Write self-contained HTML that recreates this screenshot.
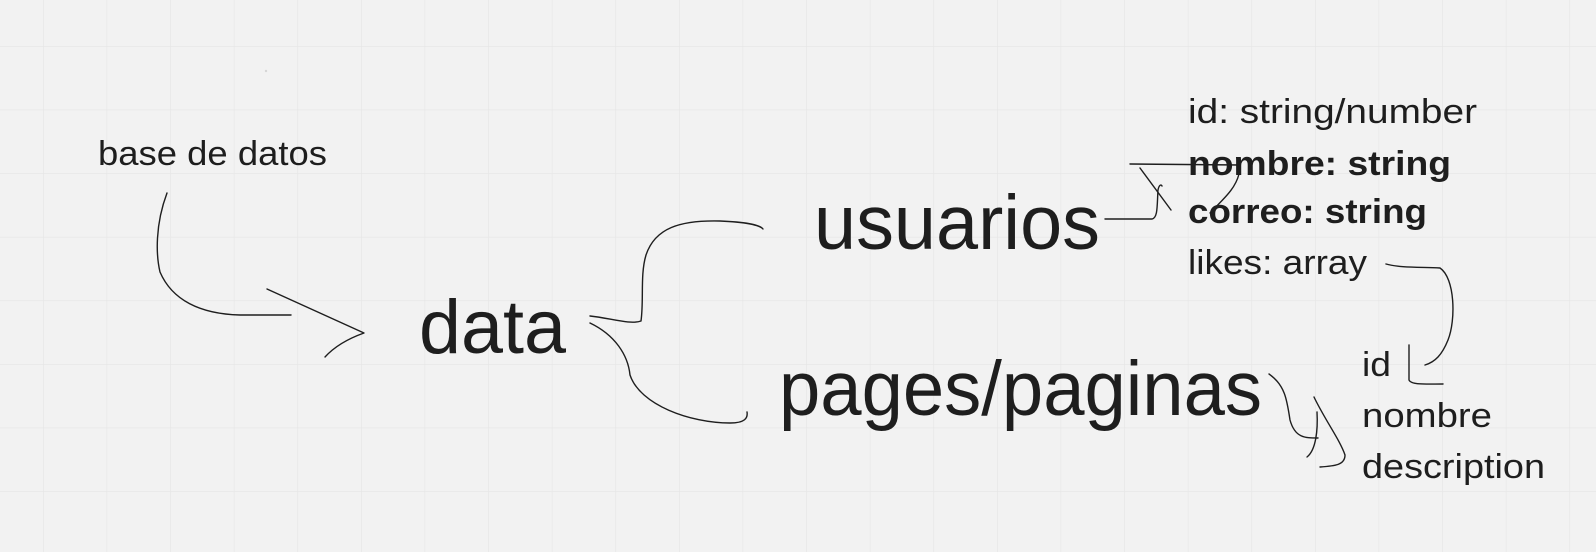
<!DOCTYPE html>
<html><head><meta charset="utf-8"><style>
html,body{margin:0;padding:0;background:#f2f2f2;}
svg{display:block;}
text{font-family:"Liberation Sans",sans-serif;fill:#1e1e1e;}
</style></head><body>
<svg width="1596" height="552" viewBox="0 0 1596 552" xmlns="http://www.w3.org/2000/svg">
<defs>
<pattern id="g" x="43" y="46" width="63.6" height="63.6" patternUnits="userSpaceOnUse">
<path d="M0 0H63.6M0 0V63.6" stroke="#e5e5e5" stroke-width="1.2" fill="none"/>
</pattern>
</defs>
<rect width="1596" height="552" fill="#f2f2f2"/>
<rect width="1596" height="552" fill="url(#g)"/>
<circle cx="266" cy="71" r="1.2" fill="#d6d6d6"/>

<text x="98" y="165" font-size="34" textLength="229" lengthAdjust="spacingAndGlyphs">base de datos</text>
<text x="419" y="353" font-size="76" textLength="147" lengthAdjust="spacingAndGlyphs">data</text>
<text x="814" y="249" font-size="77" textLength="286" lengthAdjust="spacingAndGlyphs">usuarios</text>
<text x="779" y="415" font-size="77" textLength="483" lengthAdjust="spacingAndGlyphs">pages/paginas</text>

<text x="1188" y="123" font-size="34" textLength="289" lengthAdjust="spacingAndGlyphs">id: string/number</text>
<text x="1188" y="175" font-size="34" font-weight="bold" textLength="263" lengthAdjust="spacingAndGlyphs">nombre: string</text>
<text x="1188" y="223" font-size="34" font-weight="bold" textLength="239" lengthAdjust="spacingAndGlyphs">correo: string</text>
<text x="1188" y="274" font-size="34" textLength="179" lengthAdjust="spacingAndGlyphs">likes: array</text>

<text x="1362" y="376" font-size="34" textLength="29" lengthAdjust="spacingAndGlyphs">id</text>
<text x="1362" y="427" font-size="34" textLength="130" lengthAdjust="spacingAndGlyphs">nombre</text>
<text x="1362" y="478" font-size="34" textLength="183" lengthAdjust="spacingAndGlyphs">description</text>

<g fill="none" stroke="#1e1e1e" stroke-width="1.4" stroke-linecap="round" stroke-linejoin="round">
<path d="M167 193 C155 225 156 255 160 272 C172 300 200 314 240 315 L291 315"/>
<path d="M267 289 L364 333 C350 338 335 346 325 357"/>
<path d="M590 316 C610 318 630 325 641 321 C644 300 640 275 646 255 C655 228 680 220 720 221 C745 222 760 225 763 229"/>
<path d="M590 323 C615 335 628 355 630 375 C640 405 690 423 730 423 C745 423 748 418 747 412"/>
<path d="M1105 219 L1152 219 C1158 218 1157 205 1158 190 C1159 185 1161 184 1162 186"/>
<path d="M1130 164 L1240 165"/>
<path d="M1140 168 L1171 210"/>
<path d="M1239 174 C1235 190 1222 200 1210 213"/>
<path d="M1386 264 C1400 268 1420 267 1440 268 C1455 278 1456 320 1448 340 C1442 355 1435 362 1425 365"/>
<path d="M1409 345 L1409 380 C1411 385 1425 384 1443 384"/>
<path d="M1269 374 C1285 385 1287 400 1290 420 C1295 438 1305 438 1318 438"/>
<path d="M1317 412 C1318 430 1316 450 1307 457"/>
<path d="M1314 397 C1325 420 1340 440 1345 455 C1345 465 1335 466 1320 467"/>
</g>
</svg>
</body></html>
